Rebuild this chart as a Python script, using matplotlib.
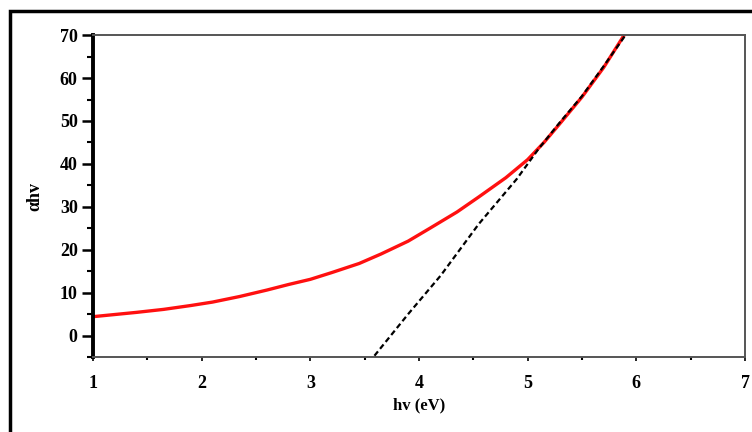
import matplotlib.pyplot as plt
from matplotlib.patches import Rectangle
from matplotlib.ticker import MultipleLocator

# red curve: (alpha h nu) vs photon energy
red_x = [1.0, 1.2, 1.4, 1.65, 1.9, 2.1, 2.35, 2.6, 2.8, 3.0, 3.2, 3.45, 3.65,
         3.9, 4.1, 4.35, 4.55, 4.8, 5.0, 5.15, 5.3, 5.5, 5.7, 5.9]
red_y = [4.4, 4.9, 5.4, 6.1, 7.0, 7.8, 9.1, 10.6, 11.9, 13.1, 14.7, 16.8, 19.0,
         22.0, 25.0, 28.8, 32.3, 36.8, 41.0, 45.0, 49.5, 55.6, 62.5, 70.5]

# black dashed extrapolation
blk_x = [3.59, 3.9, 4.2, 4.55, 4.9, 5.1, 5.3, 5.5, 5.7, 5.9]
blk_y = [-4.7, 5.0, 14.0, 26.0, 36.5, 43.5, 49.8, 55.8, 62.8, 70.0]

x_ticks = [1, 2, 3, 4, 5, 6, 7]
y_ticks = [0, 10, 20, 30, 40, 50, 60, 70]

plt.rcParams['font.family'] = ['Liberation Serif', 'DejaVu Serif']
plt.rcParams['font.weight'] = 'bold'

fig = plt.figure(figsize=(7.52, 4.32), dpi=100)
ax = fig.add_axes([0.1237, 0.1736, 0.867, 0.745])

# outer frame (cut off at right and bottom)
fig.patches.append(Rectangle((0.0133, -0.05), 1.1, 1.0245, transform=fig.transFigure,
                             fill=False, edgecolor='black', linewidth=2.5, zorder=0))

ax.plot(red_x, red_y, color='#ff1010', linewidth=2.4, zorder=2)
ax.plot(blk_x, blk_y, color='black', linewidth=1.6, linestyle=(0, (2.5, 1.5)), zorder=3)

ax.set_xlim(1, 7)
ax.set_ylim(-5, 70)
ax.set_xticks(x_ticks)
ax.set_yticks(y_ticks)
ax.yaxis.set_minor_locator(MultipleLocator(5))
ax.xaxis.set_minor_locator(MultipleLocator(0.5))

for s in ['top', 'right', 'bottom']:
    ax.spines[s].set_color('#555555')
    ax.spines[s].set_linewidth(1.4)
ax.spines['left'].set_linewidth(2.8)
ax.spines['left'].set_color('black')

ax.tick_params(axis='y', which='major', direction='out', length=8, width=1.8, labelsize=13, pad=3)
ax.tick_params(axis='y', which='minor', direction='out', length=4, width=1.5)
ax.tick_params(axis='x', which='major', direction='out', length=3, width=1.2, labelsize=13, pad=10)
ax.tick_params(axis='x', which='minor', direction='out', length=2, width=1.5)

ax.set_xlabel('hv (eV)', fontsize=12, fontweight='bold', labelpad=4)
ax.set_ylabel('αhv', fontsize=13, fontweight='bold', labelpad=12)

fig.savefig('out.png', dpi=100)
